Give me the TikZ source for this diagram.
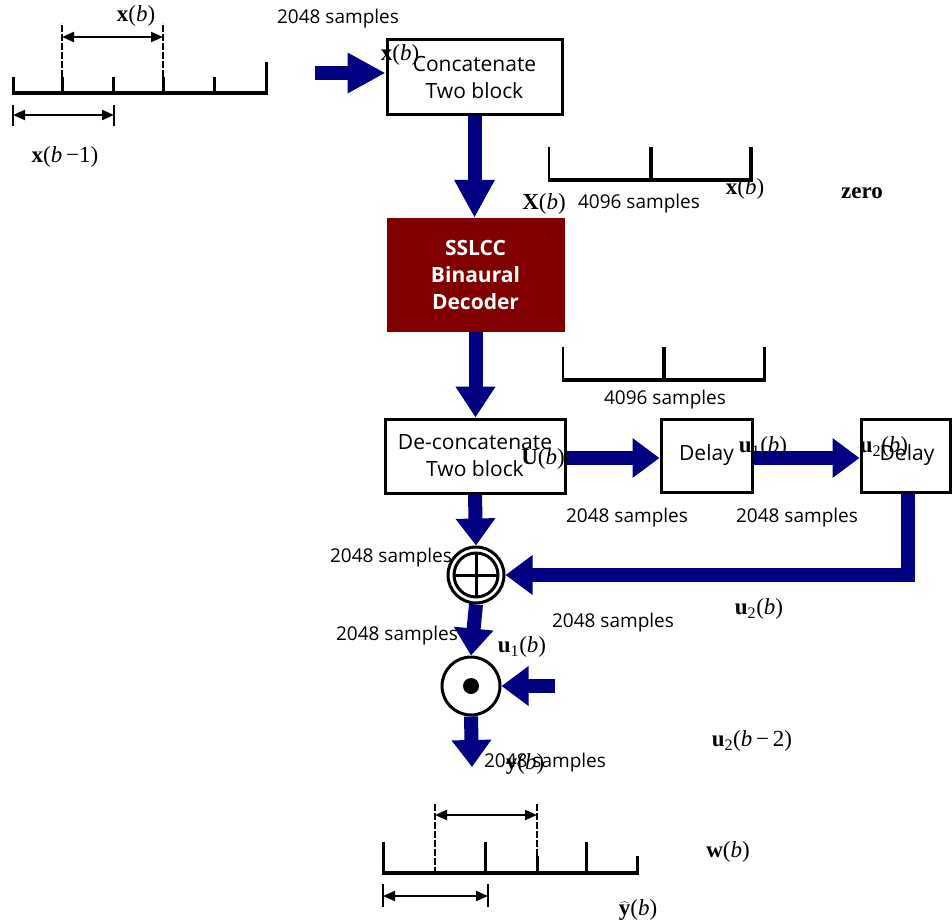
\documentclass[tikz,border=0pt]{standalone}
\usepackage{fontspec}
\usetikzlibrary{arrows.meta}
\setmainfont{Liberation Serif}
\newfontfamily\sampfont{Open Sans}
\definecolor{navyflow}{RGB}{0,0,128}
\definecolor{decred}{RGB}{128,0,0}
\newcommand{\vb}[1]{\textbf{#1}}
\newcommand{\blk}{(\textit{b})}
\begin{document}
\begin{tikzpicture}[x=1pt,y=-1pt,
  flow/.style={draw=navyflow,line width=14pt,-{Triangle[length=27pt,width=38pt]}},
  flowlong/.style={flow,-{Triangle[length=38pt,width=38pt]}},
  blockbox/.style={draw,line width=3pt,align=center,inner sep=0pt,font=\sampfont\fontsize{21}{27}\selectfont},
  lbl/.style={inner sep=0pt,font=\fontsize{23}{26}\selectfont},
  samp/.style={inner sep=0pt,font=\sampfont\fontsize{19}{22}\selectfont},
  timeaxis/.style={line width=3.5pt},
  tickmark/.style={line width=3pt},
  guide/.style={line width=1.5pt,dash pattern=on 7pt off 2pt},
  spanarrow/.style={line width=2pt,{Triangle[length=12pt,width=10pt]}-{Triangle[length=12pt,width=10pt]}}]
\useasboundingbox (0,0) rectangle (952,923);
\draw[timeaxis] (11.5,93) -- (267.5,93);
\foreach \tx in {13,113,214} \draw[tickmark] (\tx,94) -- (\tx,77);
\draw[tickmark] (266,94) -- (266,62);
\foreach \tx in {62,163} {\draw[tickmark] (\tx,94) -- (\tx,77); \draw[guide] (\tx,77) -- (\tx,23);}
\draw[spanarrow] (62,37) -- (163,37);
\draw[spanarrow] (13,115) -- (114,115);
\draw[line width=2pt] (13,105) -- (13,126) (114,105) -- (114,126);
\node[lbl] (xblk) at (136,16) {\vb{x}\blk};
\node[lbl] (xprev) at (65,157) {\vb{x}(\textit{b}\,−1)};
\node[samp] (sampin) at (338,19) {2048 samples};
\coordinate (xin) at (315,73);
\node[blockbox,minimum width=175pt,minimum height=75pt] (concat) at (474.5,77.5) {Concatenate\\Two block};
\draw[flowlong] (xin) -- (xin -| concat.west);
\node[lbl] (xbin) at (400,55) {\vb{x}\blk};
\node[draw=decred,fill=decred,minimum width=177pt,minimum height=113pt,align=center,inner sep=0pt,text=white,font=\sampfont\bfseries\fontsize{21}{27}\selectfont] (sslcc) at (475.5,274.5) {SSLCC\\Binaural\\Decoder};
\draw[flowlong] (concat.south) -- (concat.south |- sslcc.north);
\draw[timeaxis] (548,180) -- (752.5,180);
\draw[line width=2pt] (549,181) -- (549,147);
\draw[line width=4pt] (651,181) -- (651,147) (751,181) -- (751,147);
\node[lbl] (xbtop) at (745,189) {\vb{x}\blk};
\node[lbl] (Xb) at (544,204) {\vb{X}\blk};
\node[samp] (samp4k) at (639,204) {4096 samples};
\node[lbl,font=\bfseries\fontsize{23}{26}\selectfont] (zero) at (862,193) {zero};
\node[blockbox,minimum width=180pt,minimum height=74pt] (deconcat) at (475,456) {De-concatenate\\Two block};
\draw[flow,-{Triangle[length=31pt,width=38pt]}] (sslcc.south) -- (sslcc.south |- deconcat.north);
\draw[timeaxis] (562,380) -- (765.5,380);
\draw[line width=2pt] (563,381) -- (563,347);
\draw[line width=4pt] (664,381) -- (664,347);
\draw[line width=3pt] (764,381) -- (764,347);
\node[samp] (samp4kb) at (665,400) {4096 samples};
\node[blockbox,minimum width=91pt,minimum height=73pt] (delay1) at (706.5,455.5) {Delay};
\node[blockbox,minimum width=89pt,minimum height=73pt] (delay2) at (905.5,455.5) {\hspace*{3pt}Delay};
\draw[flow] (deconcat.east |- 0,458) -- (delay1.west |- 0,458);
\draw[flow] (delay1.east |- 0,458) -- (delay2.west |- 0,458);
\node[lbl] (Ub) at (543,459) {\vb{U}\blk};
\node[lbl] (u1top) at (763,447) {\vb{u}\textsubscript{1}\blk};
\node[lbl] (u2top) at (884,447) {\vb{u}\textsubscript{2}\blk};
\node[samp] (sampd1) at (627,518) {2048 samples};
\node[samp] (sampd2) at (797,518) {2048 samples};
\node[circle,draw,line width=3pt,minimum size=56pt,inner sep=0pt] (adder) at (476,575) {};
\draw[line width=3pt] (adder.center) circle (22pt);
\draw[line width=3pt] ([xshift=-22pt]adder.center) -- ([xshift=22pt]adder.center) ([yshift=-22pt]adder.center) -- ([yshift=22pt]adder.center);
\draw[flow] (deconcat.south) -- (adder.north);
\draw[flow] ([xshift=2pt]delay2.south) |- (adder.east);
\node[samp] (sampadd) at (391,558) {2048 samples};
\node[lbl] (u2fb) at (759,609) {\vb{u}\textsubscript{2}\blk};
\node[samp] (sampfb) at (613,623) {2048 samples};
\node[circle,draw,line width=3pt,minimum size=58pt,inner sep=0pt] (mult) at (471,686) {};
\fill (mult.center) circle (8pt);
\draw[flow] (adder.south) -- (mult.north);
\node[samp] (sampmul) at (397,636) {2048 samples};
\node[lbl] (u1mul) at (522,647) {\vb{u}\textsubscript{1}\blk};
\coordinate (u2in) at (555,686);
\draw[flow] (u2in) -- (mult.east);
\node[lbl] (u2old) at (752,741) {\vb{u}\textsubscript{2}(\textit{b}\,−\,2)};
\coordinate (yout) at (472,767);
\draw[flow] (mult.south) -- (yout);
\node[lbl] (yb) at (525,764) {\vb{y}\blk};
\node[samp] (sampout) at (545,763) {2048 samples};
\draw[timeaxis] (381.5,873) -- (638.5,873);
\foreach \tx in {383,485,586} \draw[tickmark] (\tx,874) -- (\tx,842);
\draw[tickmark] (637,874) -- (637,856);
\draw[tickmark] (537,874) -- (537,856);
\draw[guide,line width=2.5pt] (435,874) -- (435,803);
\draw[guide] (537,856) -- (537,803);
\draw[spanarrow] (435,815) -- (537,815);
\draw[spanarrow] (383,896) -- (488,896);
\draw[line width=2pt] (383,884) -- (383,907) (488,884) -- (488,907);
\node[lbl] (wb) at (728,852) {\vb{w}\blk};
\node[lbl] (yhat) at (638,910) {$\widehat{\mbox{\vb{y}}}$\blk};
\end{tikzpicture}
\end{document}
